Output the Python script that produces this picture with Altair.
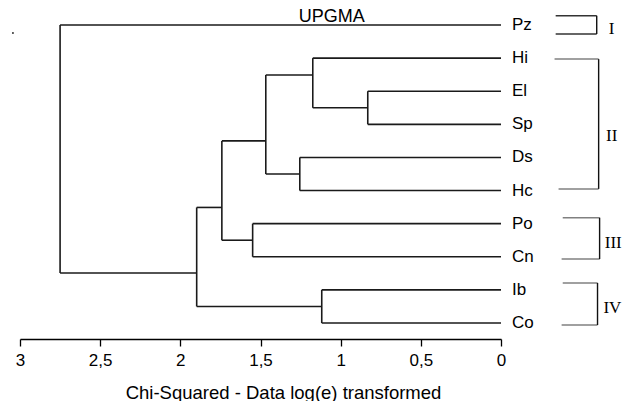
import altair as alt
import pandas as pd

# ---- data ----
leaves = ["Pz", "Hi", "El", "Sp", "Ds", "Hc", "Po", "Cn", "Ib", "Co"]
leaf_pos = [0, 1, 2, 3, 4, 5, 6, 7, 8, 9]

# internal nodes: (name, child A, child B, merge height, link position)
node_names = ["n1", "n2", "n3", "n4", "n5", "n6", "n7", "n8", "n9"]
node_a = ["El", "Hi", "Ds", "n2", "Po", "n4", "Ib", "n6", "Pz"]
node_b = ["Sp", "n1", "Hc", "n3", "Cn", "n5", "Co", "n7", "n8"]
node_height = [0.831, 1.174, 1.255, 1.467, 1.549, 1.741, 1.118, 1.898, 2.75]
node_link = [2.5, 1.51, 4.5, 3.5, 6.5, 5.51, 8.5, 7.49, 3.7]

# group brackets on the right
groups = ["I", "II", "III", "IV"]
br_top = [-0.28, 1.03, 5.82, 7.79]
br_bot = [0.27, 4.95, 7.07, 9.06]
br_left_top = [-0.341, -0.334, -0.385, -0.385]
br_left_bot = [-0.341, -0.359, -0.378, -0.378]
br_right = [-0.597, -0.609, -0.615, -0.602]
br_label_x = [-0.69, -0.69, -0.70, -0.695]
br_label_y = [0.12, 3.35, 6.58, 8.55]
br_color = ["#333333", "#808080", "#808080", "#808080"]

tick_values = [0, 0.5, 1, 1.5, 2, 2.5, 3]

# ---- build segment tables ----
height = {l: 0.0 for l in leaves}
ypos = {l: p for l, p in zip(leaves, leaf_pos)}
for n, h, yl in zip(node_names, node_height, node_link):
    height[n] = h
    ypos[n] = yl

segs = []
for n, a, b in zip(node_names, node_a, node_b):
    h = height[n]
    segs.append(dict(x=h, x2=h, y=ypos[a], y2=ypos[b]))
    for c in (a, b):
        segs.append(dict(x=height[c], x2=h, y=ypos[c], y2=ypos[c]))
tree_df = pd.DataFrame(segs)

bh, bv = [], []
for g, t, bo, lt, lb, r, col in zip(groups, br_top, br_bot, br_left_top,
                                     br_left_bot, br_right, br_color):
    bh.append(dict(x=lt, x2=r, y=t, y2=t, c=col))
    bh.append(dict(x=lb, x2=r, y=bo, y2=bo, c=col))
    bv.append(dict(x=r, x2=r, y=t, y2=bo))
bh_df = pd.DataFrame(bh)
bv_df = pd.DataFrame(bv)

leaf_df = pd.DataFrame({"label": leaves, "x": [0.0] * len(leaves), "y": leaf_pos})
roman_df = pd.DataFrame({"label": groups, "x": br_label_x, "y": br_label_y})
title_df = pd.DataFrame({"label": ["UPGMA"], "x": [1.0555], "y": [-0.09]})
dot_df = pd.DataFrame({"x": [3.044], "y": [0.24]})

# ---- scales ----
xs = alt.Scale(domain=[0, 3], reverse=True, nice=False, zero=False)
ys = alt.Scale(domain=[-0.3926, 9.4833], reverse=True, nice=False, zero=False)

x_axis = alt.Axis(
    values=tick_values,
    labelExpr="replace(toString(datum.value), '.', ',')",
    grid=False,
    domainColor="black",
    domainWidth=1.3,
    tickColor="black",
    tickWidth=1.3,
    tickSize=7,
    labelFont="Liberation Sans",
    labelFontSize=17,
    labelColor="black",
    labelPadding=6,
    labelFlush=False,
    labelOverlap=False,
    title="Chi-Squared - Data log(e) transformed",
    titleFont="Liberation Sans",
    titleFontSize=18.5,
    titleFontWeight="normal",
    titleColor="black",
    titleBaseline="alphabetic",
    titleAlign="center",
    titleX=263,
    titleY=59,
)


def X(field="x:Q"):
    return alt.X(field, scale=xs, axis=x_axis)


def Y(field="y:Q"):
    return alt.Y(field, scale=ys, axis=None)


tree = alt.Chart(tree_df).mark_rule(color="#1a1a1a", strokeWidth=1.6).encode(
    x=X(), x2="x2:Q", y=Y(), y2="y2:Q",
)

brack_h = alt.Chart(bh_df).mark_rule(strokeWidth=1.5).encode(
    x=X(), x2="x2:Q", y=Y(), y2="y2:Q",
    color=alt.Color("c:N", scale=None, legend=None),
)

brack_v = alt.Chart(bv_df).mark_rule(color="#111111", strokeWidth=1.4).encode(
    x=X(), x2="x2:Q", y=Y(), y2="y2:Q",
)

leaf_text = alt.Chart(leaf_df).mark_text(
    align="left", baseline="middle", dx=11, font="Liberation Sans",
    fontSize=17, color="black"
).encode(x=X(), y=Y(), text="label:N")

roman_text = alt.Chart(roman_df).mark_text(
    align="center", baseline="middle", font="Liberation Serif",
    fontSize=17, color="black"
).encode(x=X(), y=Y(), text="label:N")

title_text = alt.Chart(title_df).mark_text(
    align="center", baseline="alphabetic", font="Liberation Sans",
    fontSize=18, color="black"
).encode(x=X(), y=Y(), text="label:N")

dot = alt.Chart(dot_df).mark_point(
    filled=True, size=4, color="#333333", opacity=1
).encode(x=X(), y=Y())

chart = alt.layer(
    tree, brack_h, brack_v, leaf_text, roman_text, title_text, dot
).properties(
    width=481,
    height=327,
    padding={"left": 12, "top": 4, "right": 125, "bottom": 62},
    autosize=alt.AutoSizeParams(type="none"),
    background="white",
).configure_view(stroke=None)

chart.save("out.html", embed_options={"renderer": "svg", "actions": False})
